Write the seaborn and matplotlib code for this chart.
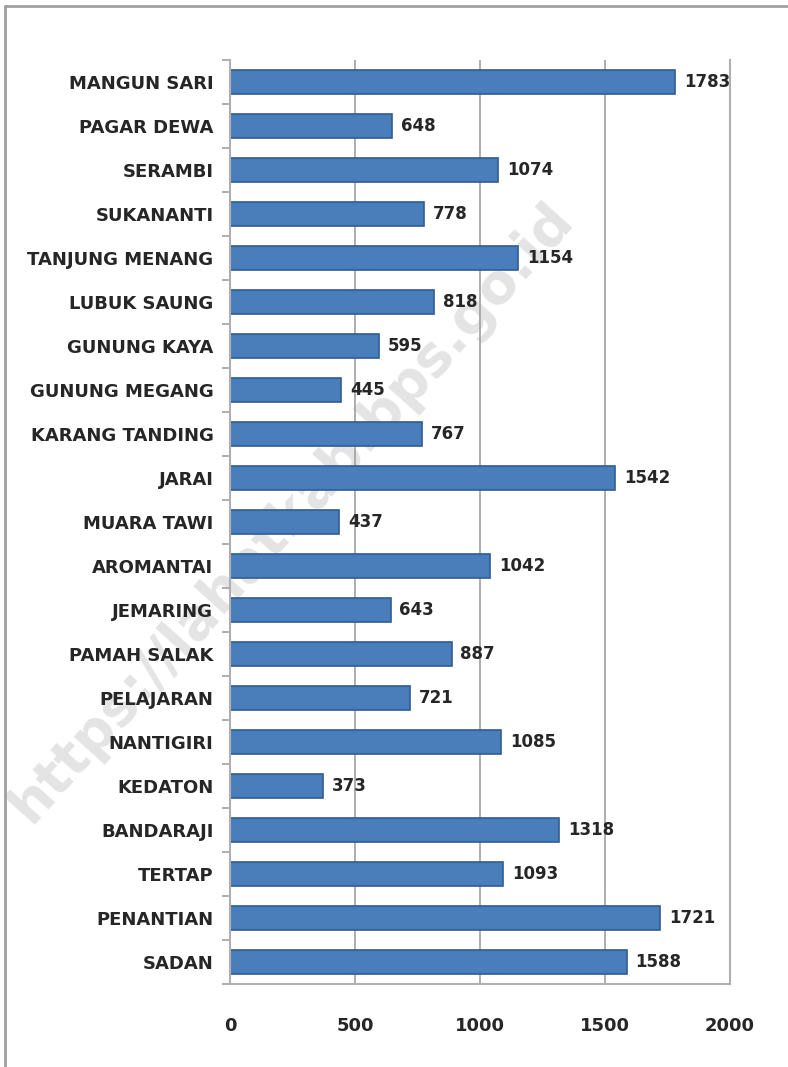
import matplotlib
matplotlib.use("Agg")
import matplotlib.pyplot as plt
import seaborn as sns
import pandas as pd
import numpy as np
from matplotlib.lines import Line2D

# data (top to bottom as shown)
desa = ["MANGUN SARI", "PAGAR DEWA", "SERAMBI", "SUKANANTI", "TANJUNG MENANG",
        "LUBUK SAUNG", "GUNUNG KAYA", "GUNUNG MEGANG", "KARANG TANDING", "JARAI",
        "MUARA TAWI", "AROMANTAI", "JEMARING", "PAMAH SALAK", "PELAJARAN",
        "NANTIGIRI", "KEDATON", "BANDARAJI", "TERTAP", "PENANTIAN", "SADAN"]
jumlah = [1783, 648, 1074, 778, 1154, 818, 595, 445, 767, 1542,
          437, 1042, 643, 887, 721, 1085, 373, 1318, 1093, 1721, 1588]
xticks = [0, 500, 1000, 1500, 2000]

df = pd.DataFrame({"desa": desa, "jumlah": jumlah})

sns.set_theme(style="white")
plt.rcParams['font.family'] = ['DejaVu Sans']

fig = plt.figure(figsize=(7.88, 10.67), dpi=100, facecolor="white")
ax = fig.add_axes([0.292, 0.078, 0.634, 0.866])
ax.set_zorder(2)
ax.patch.set_alpha(0)

# watermark (behind the plot)
fig.text(0.37, 0.52, "https://lahatkab.bps.go.id", rotation=48, fontsize=40,
         color="#E4E4E4", ha="center", va="center", fontweight="bold", zorder=1)

sns.barplot(data=df, x="jumlah", y="desa", orient="h", color="#4A7EBB",
            saturation=1, width=0.55, edgecolor="#2F5C94", linewidth=1.2, ax=ax)

ax.set_xlim(0, 2000)
ax.set_ylim(20.5, -0.5)
ax.set_xticks(xticks)
ax.set_xticklabels([str(t) for t in xticks], fontsize=13, fontweight="bold")
ax.tick_params(axis="x", length=0, pad=24)
ax.tick_params(axis="y", which="major", length=0, pad=12)
ax.set_yticks(np.arange(-0.5, 21, 1), minor=True)
ax.tick_params(axis="y", which="minor", length=6, color="#A0A0A0", width=1.2, left=True)
for lab in ax.get_yticklabels():
    lab.set_fontsize(13)
    lab.set_fontweight("bold")
ax.set_xlabel("")
ax.set_ylabel("")
ax.grid(axis="x", color="#A0A0A0", linewidth=1.2)
ax.set_axisbelow(True)
ax.spines["top"].set_visible(False)
for s in ["left", "bottom", "right"]:
    ax.spines[s].set_color("#B0B0B0")
    ax.spines[s].set_linewidth(1.5)

for i, v in enumerate(jumlah):
    ax.text(v + 35, i, str(v), va="center", ha="left", fontsize=12,
            fontweight="bold", color="#262626")

# outer frame (top and left)
fig.add_artist(Line2D([0.006, 1.0], [0.994, 0.994], transform=fig.transFigure,
                      color="#A0A0A0", linewidth=2))
fig.add_artist(Line2D([0.006, 0.006], [0.0, 0.994], transform=fig.transFigure,
                      color="#A0A0A0", linewidth=2))

plt.savefig("out.png", dpi=100, facecolor="white")
